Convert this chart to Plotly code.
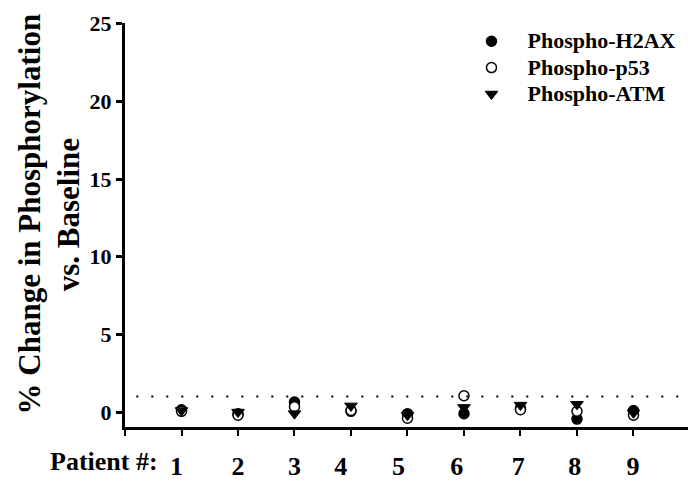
import plotly.graph_objects as go

# Patients and % change in phosphorylation vs. baseline
patients = [1, 2, 3, 4, 5, 6, 7, 8, 9]
h2ax = [0.15, -0.1, 0.65, 0.05, -0.1, -0.1, 0.25, -0.45, 0.1]
p53 = [0.05, -0.2, 0.35, 0.1, -0.4, 1.05, 0.15, 0.05, -0.2]
atm = [0.1, 0.0, -0.1, 0.4, -0.2, 0.3, 0.45, 0.5, -0.05]

threshold = 1.0
y_ticks = [0, 5, 10, 15, 20, 25]
x_tick_marks = [0, 1, 2, 3, 4, 5, 6, 7, 8, 9]
patient_labels = ["1", "2", "3", "4", "5", "6", "7", "8", "9"]
patient_label_x = [0.91, 2.0, 3.0, 3.82, 4.84, 5.87, 6.96, 7.96, 8.99]

FONT = "Liberation Serif"


def legend_name(text):
    return f"<span style='font-size:22px'><b>{text}</b></span>"


fig = go.Figure()

fig.add_trace(go.Scatter(
    x=patients, y=h2ax, mode="markers", name=legend_name("Phospho-H2AX"),
    marker=dict(symbol="circle", size=10, color="black",
                line=dict(color="black", width=1.5)),
))
fig.add_trace(go.Scatter(
    x=patients, y=p53, mode="markers", name=legend_name("Phospho-p53"),
    marker=dict(symbol="circle", size=10, color="white",
                line=dict(color="black", width=1.5)),
))
fig.add_trace(go.Scatter(
    x=patients, y=atm, mode="markers", name=legend_name("Phospho-ATM"),
    marker=dict(symbol="triangle-down", size=11, color="black",
                line=dict(color="black", width=1)),
))

# Invisible trace on the overlay axis carrying the patient number labels
fig.add_trace(go.Scatter(
    x=patient_label_x, y=[None] * len(patient_label_x), xaxis="x2",
    mode="markers", showlegend=False, hoverinfo="skip",
))

# Dotted threshold line
fig.add_shape(type="line", xref="x", yref="y", x0=0.2, x1=10, y0=threshold, y1=threshold,
              line=dict(color="black", width=2, dash="2px,13px"))

fig.update_layout(
    width=688, height=481,
    margin=dict(l=125, r=0, t=23, b=51),
    paper_bgcolor="white", plot_bgcolor="white",
    font=dict(family=FONT, color="black"),
    showlegend=True,
    legend=dict(x=0.587, y=1.0, xanchor="left", yanchor="top",
                itemwidth=62,
                font=dict(family=FONT, size=18, color="black"),
                bgcolor="rgba(0,0,0,0)", borderwidth=0),
    xaxis=dict(
        range=[0, 9.965], showgrid=False, zeroline=False,
        showline=True, linecolor="black", linewidth=3,
        tickmode="array", tickvals=x_tick_marks, ticktext=[""] * len(x_tick_marks),
        ticks="outside", ticklen=6, tickwidth=1.5, tickcolor="black",
    ),
    xaxis2=dict(
        overlaying="x", anchor="y", side="bottom", range=[0, 9.965],
        showgrid=False, zeroline=False, showline=False,
        tickmode="array", tickvals=patient_label_x, ticktext=patient_labels,
        ticks="outside", ticklen=16, tickcolor="rgba(0,0,0,0)",
        tickfont=dict(family=FONT, size=26, color="black", weight="bold"),
    ),
    yaxis=dict(
        range=[-0.96, 25.05], showgrid=False, zeroline=False,
        showline=True, linecolor="black", linewidth=3,
        tickmode="array", tickvals=y_ticks,
        ticktext=[f"<b>{v}</b>" for v in y_ticks],
        ticks="outside", ticklen=6, tickwidth=2.5, tickcolor="black",
        tickfont=dict(family=FONT, size=22, color="#000000", weight=700),
    ),
)

fig.add_annotation(text="<b>% Change in Phosphorylation</b>", textangle=-90,
                   xref="paper", yref="paper", x=-0.17, y=0.527,
                   xanchor="center", yanchor="middle", showarrow=False,
                   font=dict(family=FONT, size=31, color="black"))
fig.add_annotation(text="<b>vs. Baseline</b>", textangle=-90,
                   xref="paper", yref="paper", x=-0.1, y=0.526,
                   xanchor="center", yanchor="middle", showarrow=False,
                   font=dict(family=FONT, size=31, color="black"))
fig.add_annotation(text="<b>Patient #:</b>", xref="x", yref="paper",
                   x=0.62, y=-0.085, xanchor="right", yanchor="middle", showarrow=False,
                   font=dict(family=FONT, size=26, color="black"))

fig.write_html("out.html")
